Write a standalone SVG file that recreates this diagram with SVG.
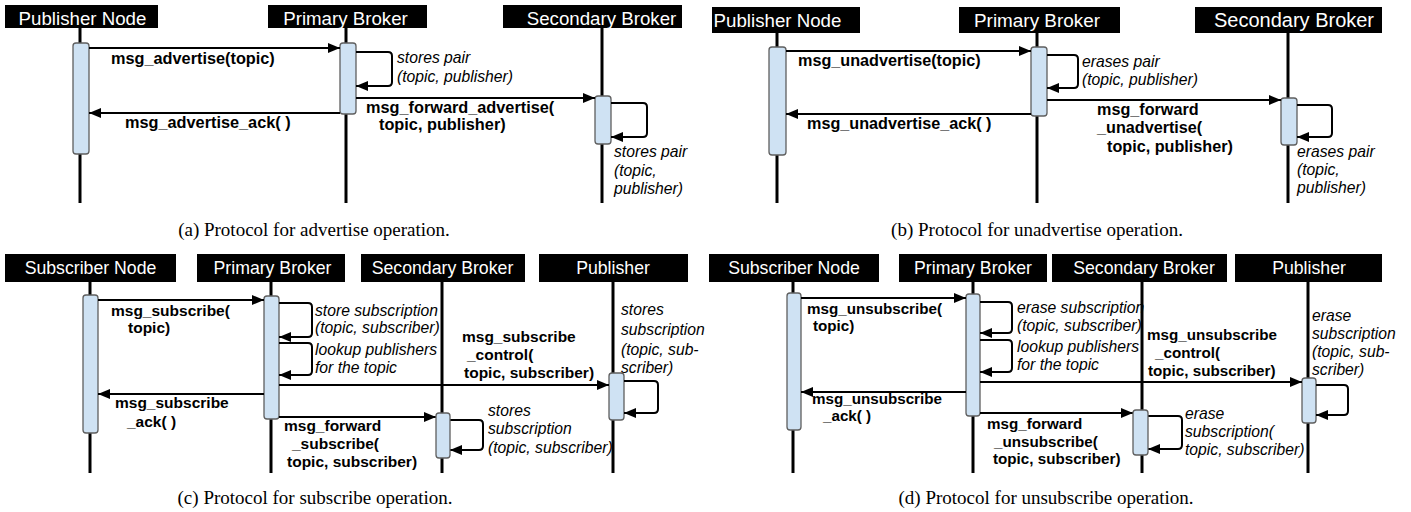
<svg xmlns="http://www.w3.org/2000/svg" width="1411" height="512" viewBox="0 0 1411 512">
<style>
.hdr{fill:#000}
.ht{fill:#fff;font-family:"Liberation Sans",Arial,sans-serif;text-anchor:middle}
.life{stroke:#000;stroke-width:3;fill:none}
.act{fill:#cfe2f3;stroke:#5f5f5f;stroke-width:1.3}
.msg{stroke:#000;stroke-width:2;fill:none;marker-end:url(#ah)}
.b{font-family:"Liberation Sans",Arial,sans-serif;font-weight:bold;fill:#000}
.i{font-family:"Liberation Sans",Arial,sans-serif;font-style:italic;fill:#000;font-size:15.7px}
.cap{font-family:"Liberation Serif","Times New Roman",serif;font-size:19px;fill:#000;text-anchor:middle}
</style>
<defs>
<marker id="ah" markerUnits="userSpaceOnUse" markerWidth="12" markerHeight="10" viewBox="0 0 12 10" refX="12" refY="5" orient="auto">
<path d="M0,0 L12,5 L0,10 z" fill="#000"/>
</marker>
</defs>
<rect width="1411" height="512" fill="#fff"/>

<!-- Panel (a) -->
<g id="a-publisher">
<rect class="hdr" x="5" y="5" width="153" height="23"/>
<text class="ht" x="82.5" y="24.5" font-size="18.7">Publisher Node</text>
<line class="life" x1="80" y1="28" x2="80" y2="203"/>
<rect class="act" x="73" y="43" width="16" height="111" rx="3"/>
</g>
<g id="a-primary">
<rect class="hdr" x="268" y="5" width="159" height="23"/>
<text class="ht" x="345.5" y="24.5" font-size="18.7">Primary Broker</text>
<line class="life" x1="346" y1="28" x2="346" y2="203"/>
<rect class="act" x="340" y="43" width="16" height="71" rx="3"/>
</g>
<g id="a-secondary">
<rect class="hdr" x="503" y="5" width="179" height="23"/>
<text class="ht" x="601.5" y="24.5" font-size="18.7">Secondary Broker</text>
<line class="life" x1="602" y1="28" x2="602" y2="203"/>
<rect class="act" x="595" y="96" width="16" height="48" rx="3"/>
</g>

<!-- Panel (b) -->
<g id="b-publisher">
<rect class="hdr" x="712" y="7" width="148" height="26"/>
<text class="ht" x="777.5" y="27" font-size="18.7">Publisher Node</text>
<line class="life" x1="777" y1="33" x2="777" y2="203"/>
<rect class="act" x="769" y="47" width="17" height="108" rx="3"/>
</g>
<g id="b-primary">
<rect class="hdr" x="959" y="7" width="161" height="26"/>
<text class="ht" x="1037" y="27" font-size="18.9">Primary Broker</text>
<line class="life" x1="1037" y1="33" x2="1037" y2="203"/>
<rect class="act" x="1031" y="47" width="16" height="69" rx="3"/>
</g>
<g id="b-secondary">
<rect class="hdr" x="1195" y="7" width="187" height="26"/>
<text class="ht" x="1294" y="27" font-size="20">Secondary Broker</text>
<line class="life" x1="1288" y1="33" x2="1288" y2="203"/>
<rect class="act" x="1281" y="98" width="16" height="47" rx="3"/>
</g>

<!-- Panel (c) -->
<g id="c-subscriber">
<rect class="hdr" x="5" y="254" width="171" height="28"/>
<text class="ht" x="90.5" y="274" font-size="17.7">Subscriber Node</text>
<line class="life" x1="90" y1="282" x2="90" y2="473"/>
<rect class="act" x="83" y="295" width="15" height="138" rx="3"/>
</g>
<g id="c-primary">
<rect class="hdr" x="197" y="254" width="148" height="28"/>
<text class="ht" x="272.5" y="274" font-size="17.7">Primary Broker</text>
<line class="life" x1="271" y1="282" x2="271" y2="473"/>
<rect class="act" x="264" y="296" width="15" height="123" rx="3"/>
</g>
<g id="c-secondary">
<rect class="hdr" x="361" y="254" width="164" height="28"/>
<text class="ht" x="442.5" y="274" font-size="17.7">Secondary Broker</text>
<line class="life" x1="442" y1="282" x2="442" y2="473"/>
</g>
<g id="c-publisher">
<rect class="hdr" x="539" y="254" width="149" height="28"/>
<text class="ht" x="613" y="274" font-size="17.7">Publisher</text>
<line class="life" x1="613" y1="282" x2="613" y2="473"/>
<rect class="act" x="609" y="373" width="15" height="47" rx="3"/>
</g>

<!-- Panel (d) -->
<g id="d-subscriber">
<rect class="hdr" x="709" y="254" width="170" height="28"/>
<text class="ht" x="794" y="274" font-size="17.7">Subscriber Node</text>
<line class="life" x1="793" y1="282" x2="793" y2="473"/>
<rect class="act" x="787" y="293" width="14" height="137" rx="3"/>
</g>
<g id="d-primary">
<rect class="hdr" x="899" y="254" width="148" height="28"/>
<text class="ht" x="973" y="274" font-size="17.7">Primary Broker</text>
<line class="life" x1="973" y1="282" x2="973" y2="473"/>
<rect class="act" x="966" y="294" width="14" height="122" rx="3"/>
</g>
<g id="d-secondary">
<rect class="hdr" x="1052" y="254" width="175" height="28"/>
<text class="ht" x="1144" y="274" font-size="17.7">Secondary Broker</text>
<line class="life" x1="1142" y1="282" x2="1142" y2="473"/>
</g>
<g id="d-publisher">
<rect class="hdr" x="1235" y="254" width="147" height="28"/>
<text class="ht" x="1309" y="274" font-size="17.7">Publisher</text>
<line class="life" x1="1308" y1="282" x2="1308" y2="473"/>
<rect class="act" x="1302" y="378" width="14" height="45" rx="3"/>
</g>

<g id="connectors">
<!-- (a) -->
<path class="msg" d="M89,48 H340"/>
<path class="msg" d="M340,113 H89"/>
<path class="msg" d="M356,98 H595"/>
<path class="msg" d="M356,52 H388 Q392,52 392,56 V82 Q392,86 388,86 H356"/>
<path class="msg" d="M611,103 H643 Q647,103 647,107 V133 Q647,137 643,137 H611"/>
<!-- (b) -->
<path class="msg" d="M786,51 H1031"/>
<path class="msg" d="M1031,114 H786"/>
<path class="msg" d="M1047,100 H1281"/>
<path class="msg" d="M1047,55 H1074 Q1078,55 1078,59 V84 Q1078,88 1074,88 H1047"/>
<path class="msg" d="M1297,105 H1328 Q1332,105 1332,109 V133 Q1332,137 1328,137 H1297"/>
<!-- (c) -->
<path class="msg" d="M98,300 H264"/>
<path class="msg" d="M279,385 H609"/>
<path class="msg" d="M264,394 H98"/>
<path class="msg" d="M279,417 H436"/>
<path class="msg" d="M279,303 H308 Q312,303 312,307 V333 Q312,337 308,337 H279"/>
<path class="msg" d="M279,343 H308 Q312,343 312,347 V371 Q312,375 308,375 H279"/>
<path class="msg" d="M450,420 H479 Q483,420 483,424 V446 Q483,450 479,450 H450"/>
<path class="msg" d="M624,381 H654 Q658,381 658,385 V409 Q658,413 654,413 H624"/>
<!-- (d) -->
<path class="msg" d="M801,298 H966"/>
<path class="msg" d="M980,382 H1302"/>
<path class="msg" d="M966,392 H801"/>
<path class="msg" d="M980,413 H1133"/>
<path class="msg" d="M980,302 H1008 Q1012,302 1012,306 V329 Q1012,333 1008,333 H980"/>
<path class="msg" d="M980,340 H1008 Q1012,340 1012,344 V368 Q1012,372 1008,372 H980"/>
<path class="msg" d="M1148,416 H1178 Q1182,416 1182,420 V445 Q1182,449 1178,449 H1148"/>
<path class="msg" d="M1316,385 H1344 Q1348,385 1348,389 V411 Q1348,415 1344,415 H1316"/>
</g>

<g id="c-secondary-act"><rect class="act" x="436" y="413" width="14" height="45" rx="3"/></g>
<g id="d-secondary-act"><rect class="act" x="1133" y="410" width="15" height="45" rx="3"/></g>

<g id="labels">
<!-- (a) -->
<text class="b" font-size="16.3" x="111" y="64">msg_advertise(topic)</text>
<text class="b" font-size="16.3" x="125" y="128">msg_advertise_ack( )</text>
<text class="b" font-size="16.3" x="366" y="113">msg_forward_advertise(</text>
<text class="b" font-size="16.3" x="379" y="130">topic, publisher)</text>
<text class="i" x="397" y="63">stores pair</text>
<text class="i" x="397" y="82">(topic, publisher)</text>
<text class="i" x="614" y="157">stores pair</text>
<text class="i" x="614" y="176">(topic,</text>
<text class="i" x="614" y="194">publisher)</text>
<!-- (b) -->
<text class="b" font-size="16.2" x="798" y="66">msg_unadvertise(topic)</text>
<text class="b" font-size="16.2" x="807" y="129">msg_unadvertise_ack( )</text>
<text class="b" font-size="16.2" x="1097" y="115">msg_forward</text>
<text class="b" font-size="16.2" x="1097" y="133">_unadvertise(</text>
<text class="b" font-size="16.2" x="1107" y="152">topic, publisher)</text>
<text class="i" x="1082" y="67">erases pair</text>
<text class="i" x="1082" y="85">(topic, publisher)</text>
<text class="i" x="1297" y="157">erases pair</text>
<text class="i" x="1297" y="175">(topic,</text>
<text class="i" x="1297" y="193">publisher)</text>
<!-- (c) -->
<text class="b" font-size="15.5" x="111" y="316">msg_subscribe(</text>
<text class="b" font-size="15.5" x="128" y="333">topic)</text>
<text class="b" font-size="15.5" x="115" y="408">msg_subscribe</text>
<text class="b" font-size="15.5" x="127" y="427">_ack( )</text>
<text class="b" font-size="15.5" x="462" y="342">msg_subscribe</text>
<text class="b" font-size="15.5" x="467" y="360">_control(</text>
<text class="b" font-size="15.5" x="464" y="378">topic, subscriber)</text>
<text class="b" font-size="15.5" x="284" y="431">msg_forward</text>
<text class="b" font-size="15.5" x="292" y="449">_subscribe(</text>
<text class="b" font-size="15.5" x="287" y="467">topic, subscriber)</text>
<text class="i" x="315" y="316">store subscription</text>
<text class="i" x="315" y="333">(topic, subscriber)</text>
<text class="i" x="315" y="355">lookup publishers</text>
<text class="i" x="315" y="373">for the topic</text>
<text class="i" x="621" y="315">stores</text>
<text class="i" x="621" y="335">subscription</text>
<text class="i" x="621" y="355">(topic, sub-</text>
<text class="i" x="621" y="373">scriber)</text>
<text class="i" x="488" y="416">stores</text>
<text class="i" x="488" y="434">subscription</text>
<text class="i" x="488" y="453">(topic, subscriber)</text>
<!-- (d) -->
<text class="b" font-size="15.2" x="807" y="314">msg_unsubscribe(</text>
<text class="b" font-size="15.2" x="813" y="331">topic)</text>
<text class="b" font-size="15.2" x="812" y="404">msg_unsubscribe</text>
<text class="b" font-size="15.2" x="823" y="421">_ack( )</text>
<text class="b" font-size="15.2" x="1147" y="340">msg_unsubscribe</text>
<text class="b" font-size="15.2" x="1155" y="358">_control(</text>
<text class="b" font-size="15.2" x="1148" y="376">topic, subscriber)</text>
<text class="b" font-size="15.2" x="987" y="429">msg_forward</text>
<text class="b" font-size="15.2" x="994" y="447">_unsubscribe(</text>
<text class="b" font-size="15.2" x="993" y="464">topic, subscriber)</text>
<text class="i" x="1017" y="313">erase subscription</text>
<text class="i" x="1017" y="331">(topic, subscriber)</text>
<text class="i" x="1017" y="352">lookup publishers</text>
<text class="i" x="1017" y="370">for the topic</text>
<text class="i" x="1312" y="321">erase</text>
<text class="i" x="1312" y="339">subscription</text>
<text class="i" x="1312" y="357">(topic, sub-</text>
<text class="i" x="1312" y="375">scriber)</text>
<text class="i" x="1185" y="419">erase</text>
<text class="i" x="1185" y="437">subscription(</text>
<text class="i" x="1185" y="455">topic, subscriber)</text>
<!-- captions -->
<text class="cap" x="314" y="236">(a) Protocol for advertise operation.</text>
<text class="cap" x="1037" y="236">(b) Protocol for unadvertise operation.</text>
<text class="cap" x="315" y="504">(c) Protocol for subscribe operation.</text>
<text class="cap" x="1046" y="504">(d) Protocol for unsubscribe operation.</text>
</g>
</svg>
